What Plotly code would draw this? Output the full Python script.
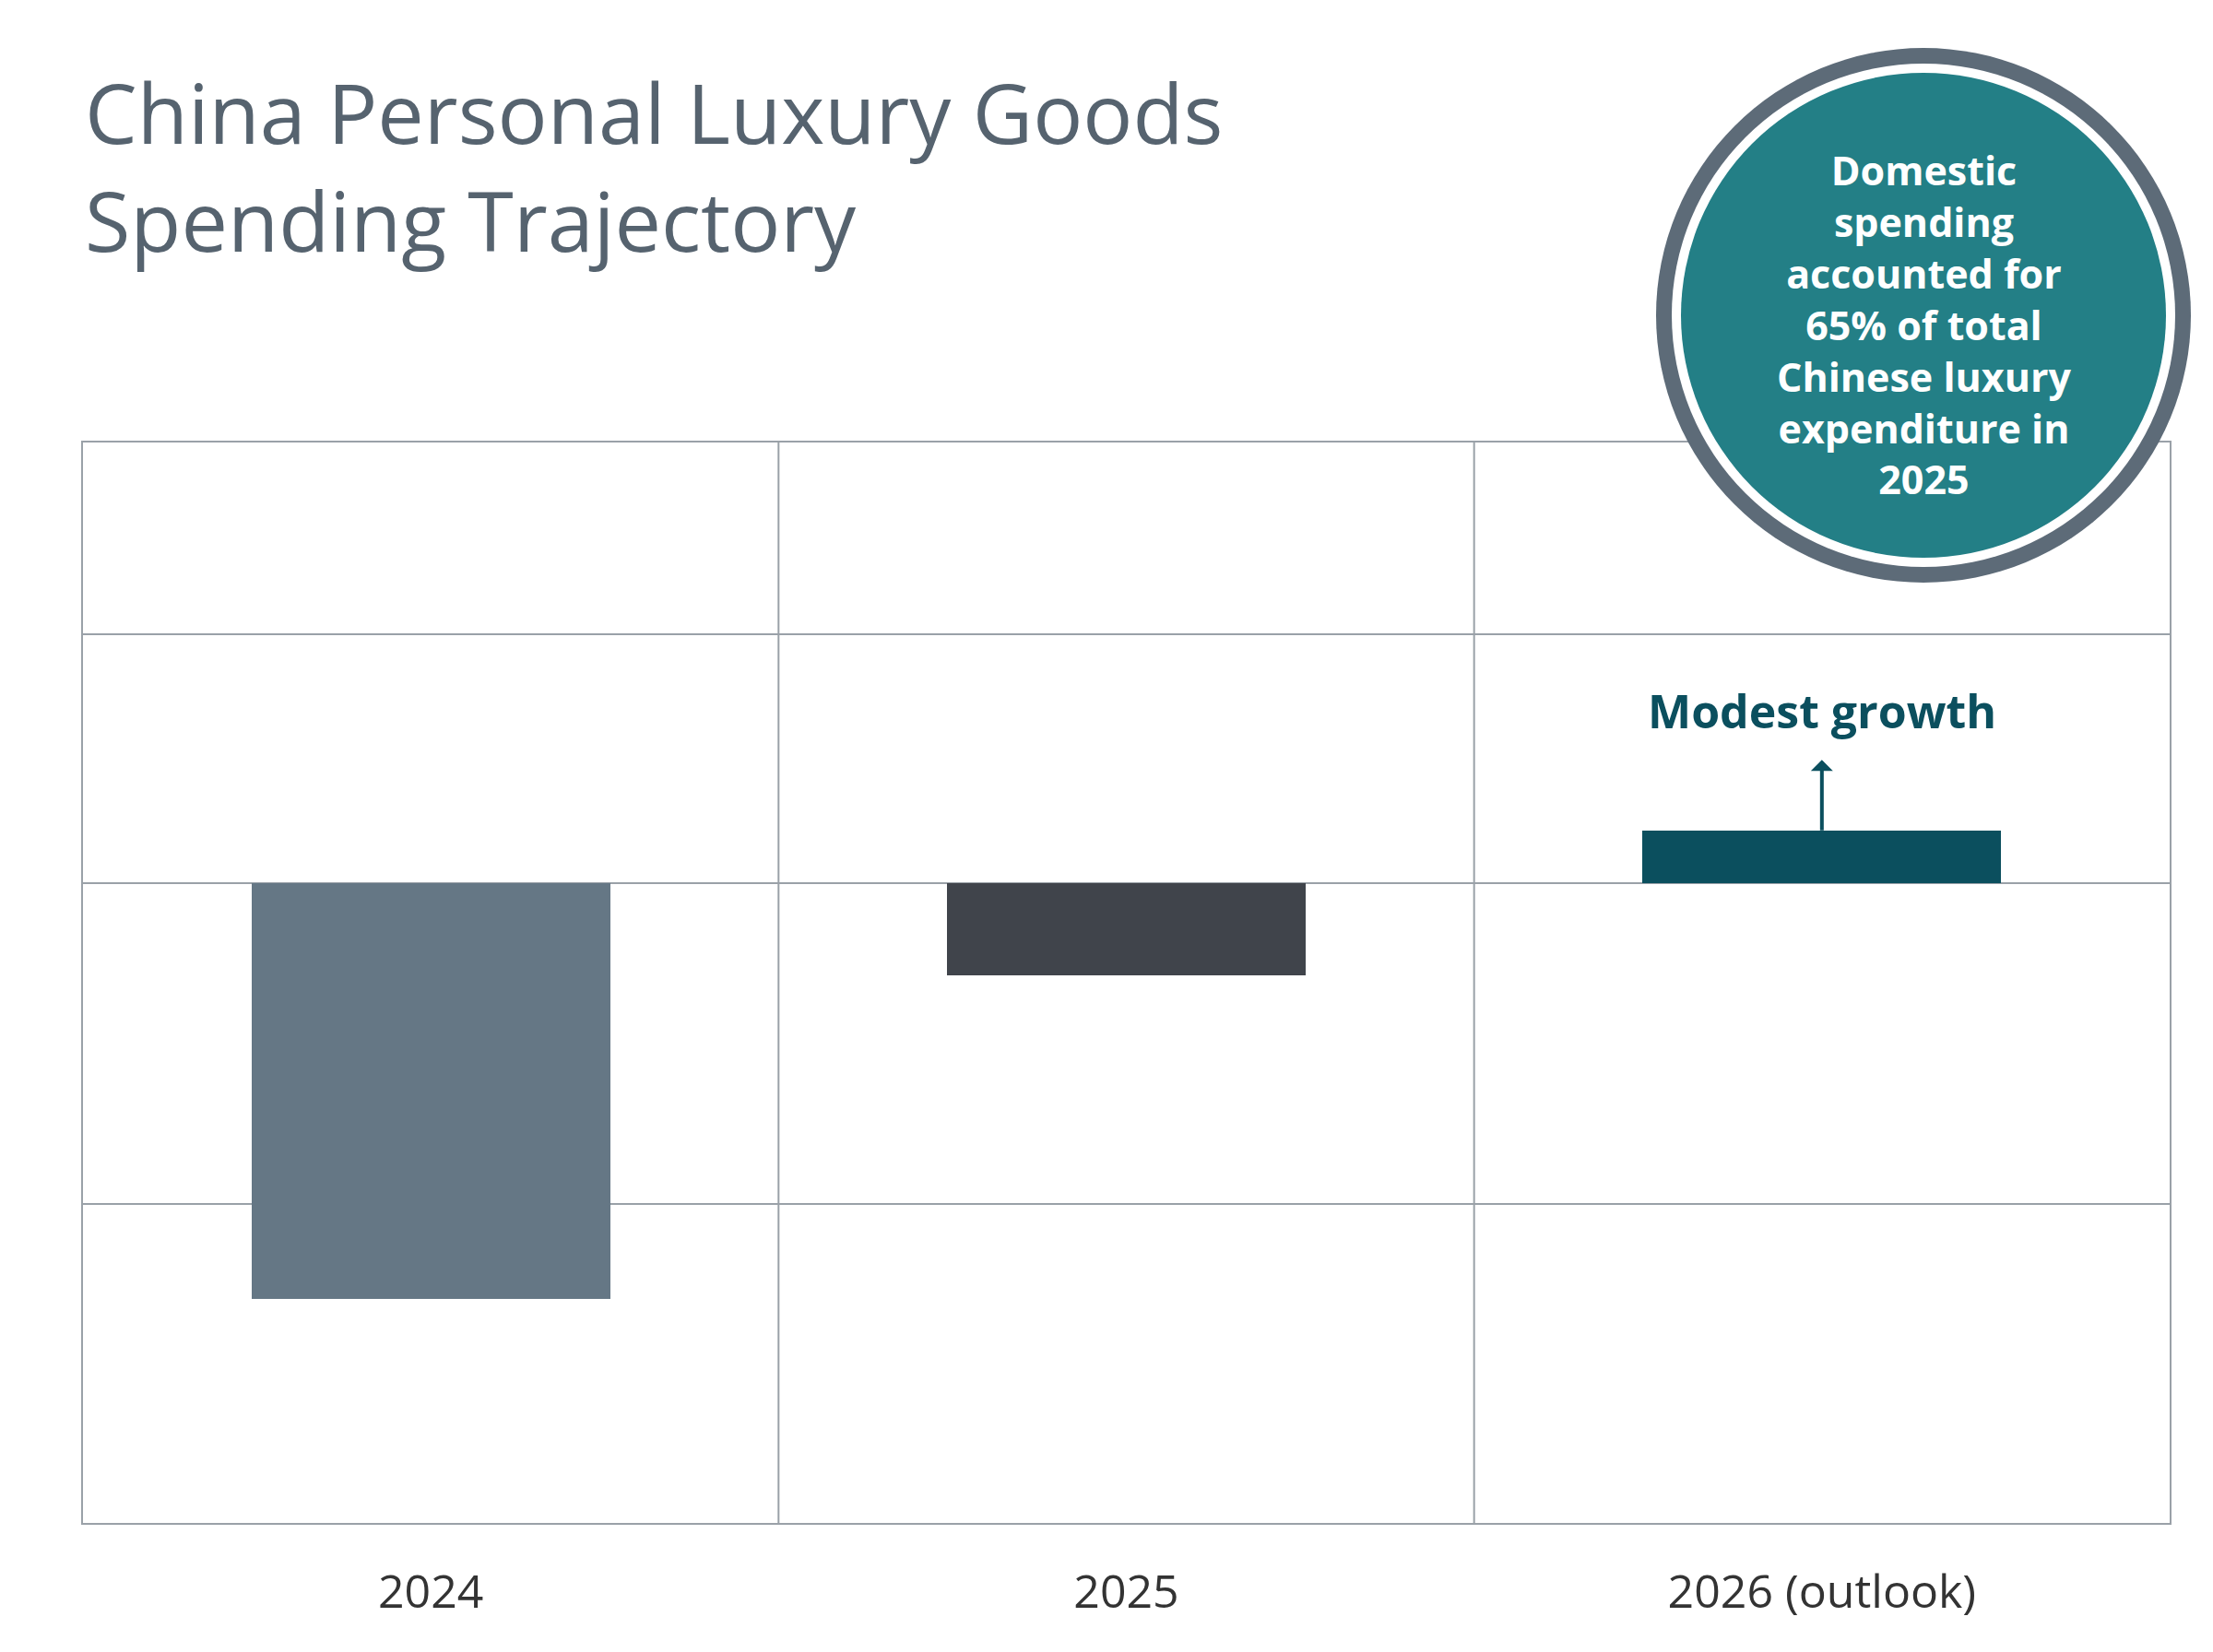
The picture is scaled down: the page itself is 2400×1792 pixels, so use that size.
import plotly.graph_objects as go

years = ["2024", "2025", "2026 (outlook)"]
change_mid = [-18, -4, 2.3]
range_labels = ["-17% to -19%", "-3% to -5%", "Modest growth"]
sub_labels = ["(Severe contraction)", "(Moderation)", ""]
bar_colors = ["#657785", "#40444b", "#0b4f5e"]
callout = "Domestic<br>spending<br>accounted for<br>65% of total<br>Chinese luxury<br>expenditure in<br>2025"

W, H = 2400, 1792
L, R, T, B = 82, 55, 472, 148
PW, PH = W - L - R, H - T - B
FONT = "Open Sans"

fig = go.Figure(go.Bar(x=years, y=change_mid, marker_color=bar_colors, width=0.516,
                       marker_line_width=0, hoverinfo="skip"))

# value labels + arrows
for i, (v, lab, sub, c) in enumerate(zip(change_mid, range_labels, sub_labels, bar_colors)):
    down = v < 0
    fig.add_annotation(x=years[i], y=v, ax=0, ay=(78 if down else -78), axref="pixel", ayref="pixel",
                       text="", showarrow=True, arrowside="start", arrowhead=2, arrowsize=1.6,
                       arrowwidth=4, arrowcolor=c)
    if down:
        fig.add_annotation(x=years[i], y=v, yshift=-125, text="<b>%s</b>" % lab, showarrow=False,
                           font=dict(family=FONT, size=46, color=c))
        fig.add_annotation(x=years[i], y=v, yshift=-190, text=sub, showarrow=False,
                           font=dict(family=FONT, size=46, color=c))
    else:
        fig.add_annotation(x=years[i], y=v, yshift=130, text="<b>%s</b>" % lab, showarrow=False,
                           font=dict(family=FONT, size=50, color=c))

# vertical separators between categories
for xb in [0.5, 1.5]:
    fig.add_shape(type="line", x0=xb, x1=xb, y0=0, y1=1, xref="x", yref="paper",
                  line=dict(color="#9aa1a8", width=2), layer="below")

def circ(cx, cy, r, color):
    fig.add_shape(type="circle", xref="paper", yref="paper",
                  x0=(cx - r - L) / PW, x1=(cx + r - L) / PW,
                  y0=(H - B - cy - r) / PH, y1=(H - B - cy + r) / PH,
                  fillcolor=color, line_width=0, layer="above")

circ(2078, 334, 290, "#5d6b78")
circ(2078, 334, 273, "white")
circ(2078, 334, 263, "#237f86")
fig.add_annotation(xref="paper", yref="paper", x=(2078 - L) / PW, y=(H - B - 344) / PH,
                   xanchor="center", yanchor="middle",
                   text="<b>%s</b>" % callout, showarrow=False,
                   font=dict(family=FONT, size=43, color="white"))

# title
fig.add_annotation(xref="paper", yref="paper", x=0, y=(H - B - 50) / PH, xanchor="left", yanchor="top",
                   align="left", showarrow=False,
                   text="China Personal Luxury Goods<br>Spending Trajectory",
                   font=dict(family=FONT, size=90, color="#56636f"))

fig.update_layout(
    width=W, height=H, margin=dict(l=L, r=R, t=T, b=B),
    paper_bgcolor="white", plot_bgcolor="white", showlegend=False, bargap=0,
)
fig.update_xaxes(type="category", range=[-0.5, 2.5], showgrid=False, showline=True, mirror=True,
                 linecolor="#9aa1a8", linewidth=2, ticks="", ticklabelstandoff=30,
                 tickfont=dict(family=FONT, size=50, color="#333333"))
fig.update_yaxes(range=[-27.7, 19.1], tickvals=[-13.9, 0, 10.8], showticklabels=False,
                 gridcolor="#9aa1a8", gridwidth=2, zeroline=False, showline=True, mirror=True,
                 linecolor="#9aa1a8", linewidth=2)

fig.write_html("out.html")
